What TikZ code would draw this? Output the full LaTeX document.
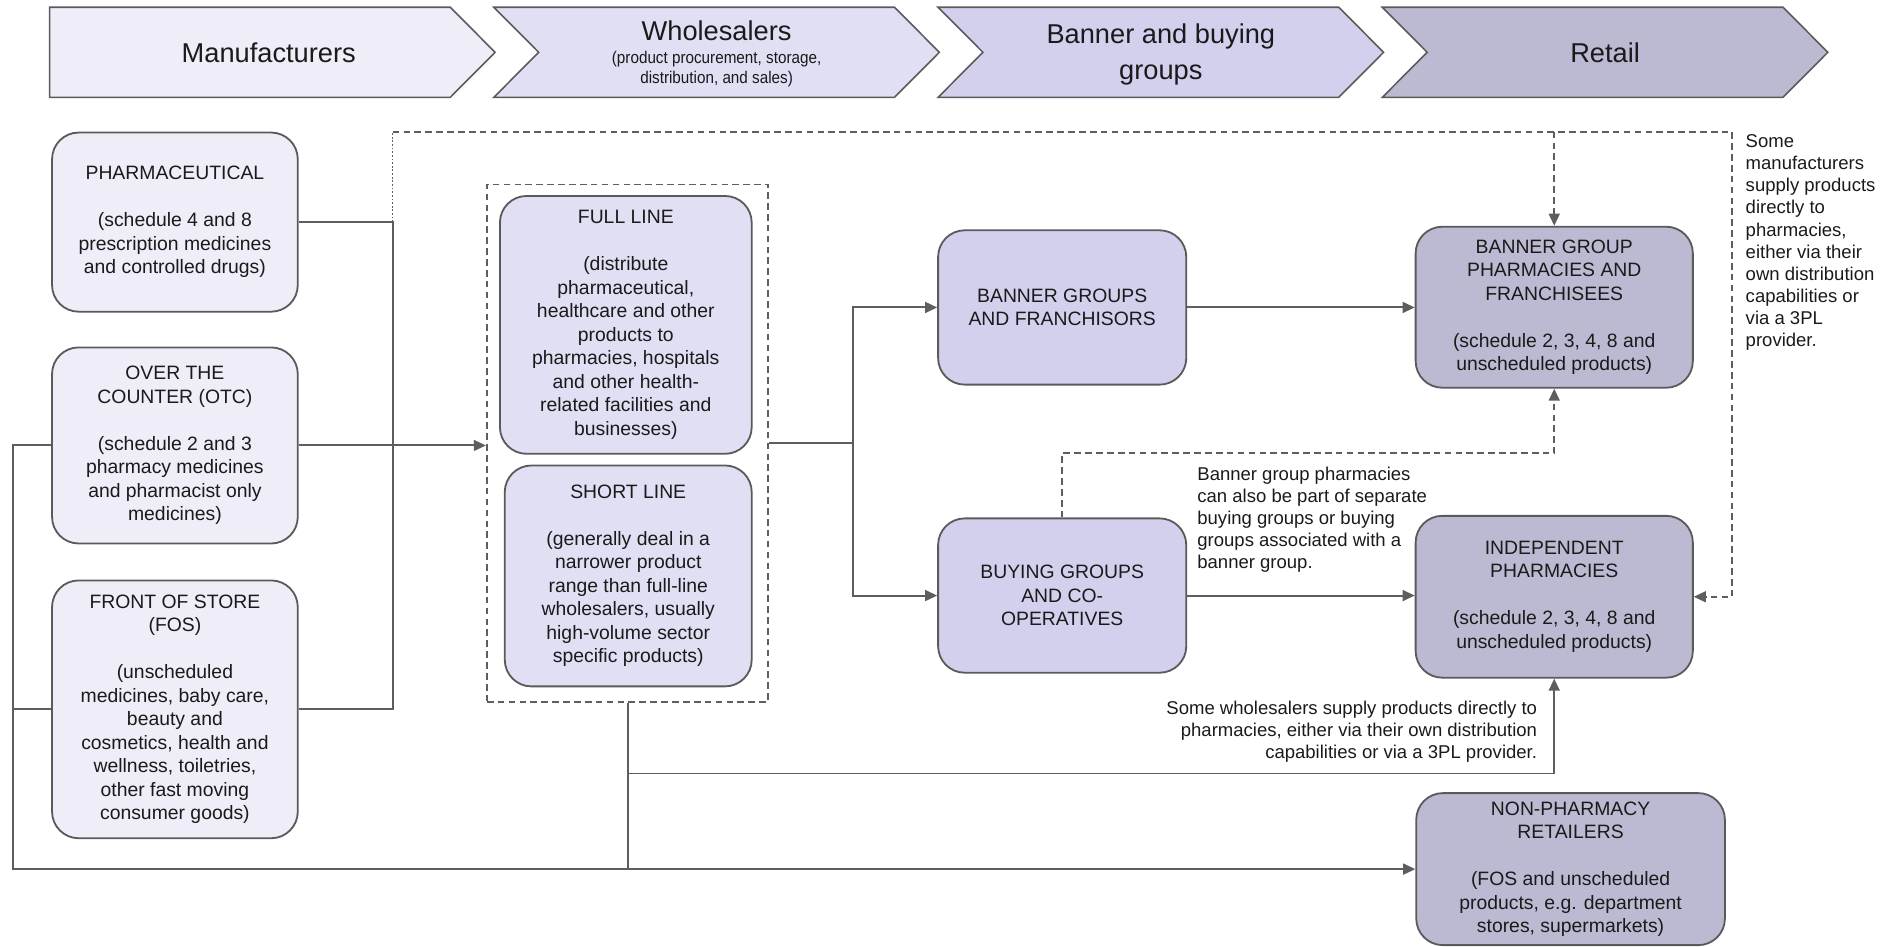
\documentclass[tikz,border=0pt]{standalone}
\usepackage{fontspec}
\setmainfont{Liberation Sans}
\newfontfamily\subfnt[FakeStretch=0.9]{Liberation Sans}
\usetikzlibrary{arrows.meta}
\definecolor{cA}{HTML}{EEEDF8}
\definecolor{cB}{HTML}{E0DFF4}
\definecolor{cC}{HTML}{D3D0EE}
\definecolor{cD}{HTML}{BCBAD2}
\definecolor{lineg}{HTML}{5E5E5E}
\definecolor{boxg}{HTML}{5A5A5A}
\definecolor{txt}{HTML}{1A1A1A}
\begin{document}
\begin{tikzpicture}[x=1pt,y=-1pt,
  ln/.style={draw=lineg, line width=1.6pt},
  arr/.style={ln, -{Triangle[length=10pt,width=9pt]}},
  dsh/.style={draw=lineg, line width=1.6pt, dash pattern=on 5.5pt off 3.5pt},
  darr/.style={dsh, -{Triangle[length=10pt,width=9pt]}},
  dotl/.style={draw=lineg, line width=0.9pt, dash pattern=on 1.5pt off 1.5pt},
  chev/.style={draw=boxg, line width=1.3pt},
  ttl/.style={text=txt, align=center, inner sep=0pt, font=\fontsize{22.5}{29}\selectfont},
  sub/.style={text=txt, align=center, inner sep=0pt, font=\subfnt\fontsize{14}{16}\selectfont},
  box/.style={draw=boxg, line width=1.5pt, rounded corners=22pt, align=center, inner sep=0pt, text=txt, font=\fontsize{16}{19.4}\selectfont},
  note/.style={text=txt, inner sep=0pt, font=\fontsize{15.3}{18.3}\selectfont},
  wbx/.style={dsh}
]
\useasboundingbox (0,0) rectangle (1568,782);

% chevrons
\path[chev, fill=cA] (41,6) -- (372,6) -- (409,43.2) -- (372,80.4) -- (41,80.4) -- cycle;
\path[chev, fill=cB] (408,6) -- (739,6) -- (776,43.2) -- (739,80.4) -- (408,80.4) -- (445,43.2) -- cycle;
\path[chev, fill=cC] (775,6) -- (1106,6) -- (1143,43.2) -- (1106,80.4) -- (775,80.4) -- (812,43.2) -- cycle;
\path[chev, fill=cD] (1142,6) -- (1473,6) -- (1510,43.2) -- (1473,80.4) -- (1142,80.4) -- (1179,43.2) -- cycle;
\node[ttl] (tman) at (222,44) {Manufacturers};
\node[ttl] (twho) at (592,25.5) {Wholesalers};
\node[sub] (twhos) at (592,57) {(product procurement, storage,\\distribution, and sales)};
\node[ttl] (tban) at (959,45) {Banner and buying\\groups};
\node[ttl] (tret) at (1326,44) {Retail};

% manufacturers
\node[box, fill=cA, minimum width=203pt, minimum height=148pt] (pharm) at (144.5,183.5)
  {PHARMACEUTICAL\\[19.4pt](schedule 4 and 8\\prescription medicines\\and controlled drugs)};
\node[box, fill=cA, minimum width=203pt, minimum height=162pt] (otc) at (144.5,368)
  {OVER THE\\COUNTER (OTC)\\[19.4pt](schedule 2 and 3\\pharmacy medicines\\and pharmacist only\\medicines)};
\node[box, fill=cA, minimum width=203pt, minimum height=213pt] (fos) at (144.5,586)
  {FRONT OF STORE\\(FOS)\\[19.4pt](unscheduled\\medicines, baby care,\\beauty and\\cosmetics, health and\\wellness, toiletries,\\other fast moving\\consumer goods)};

% wholesalers
\node[wbx, minimum width=232.6pt, minimum height=427.2pt] (wbox) at (518.5,366) {};
\node[box, fill=cB, minimum width=208pt, minimum height=213pt] (full) at (517,268.4)
  {FULL LINE\\[19.4pt](distribute\\pharmaceutical,\\healthcare and other\\products to\\pharmacies, hospitals\\and other health-\\related facilities and\\businesses)};
\node[box, fill=cB, minimum width=204pt, minimum height=182.5pt] (short) at (519,475.8)
  {SHORT LINE\\[19.4pt](generally deal in a\\narrower product\\range than full-line\\wholesalers, usually\\high-volume sector\\specific products)};

% banner and buying groups
\node[box, fill=cC, minimum width=205pt, minimum height=127.5pt] (bgf) at (877.5,254)
  {BANNER GROUPS\\AND FRANCHISORS};
\node[box, fill=cC, minimum width=205pt, minimum height=127.5pt] (bgc) at (877.5,492)
  {BUYING GROUPS\\AND CO-\\OPERATIVES};

% retail
\node[box, fill=cD, minimum width=229pt, minimum height=133pt] (bgp) at (1284,253.8)
  {BANNER GROUP\\PHARMACIES AND\\FRANCHISEES\\[19.4pt](schedule 2, 3, 4, 8 and\\unscheduled products)};
\node[box, fill=cD, minimum width=229pt, minimum height=133.7pt] (ind) at (1284,493)
  {INDEPENDENT\\PHARMACIES\\[19.4pt](schedule 2, 3, 4, 8 and\\unscheduled products)};
\node[box, fill=cD, minimum width=255pt, minimum height=125.6pt] (nonph) at (1297.5,718)
  {NON-PHARMACY\\RETAILERS\\[19.4pt](FOS and unscheduled\\products, e.g. department\\stores, supermarkets)};

% notes
\node[note, align=left, anchor=north west] (n1) at (1442,111)
  {Some\\manufacturers\\supply products\\directly to\\pharmacies,\\either via their\\own distribution\\capabilities or\\via a 3PL\\provider.};
\node[note, align=left, anchor=north west] (n2) at (989,385.5)
  {Banner group pharmacies\\can also be part of separate\\buying groups or buying\\groups associated with a\\banner group.};
\node[note, align=right, anchor=north east] (n3) at (1270,579)
  {Some wholesalers supply products directly to\\pharmacies, either via their own distribution\\capabilities or via a 3PL provider.};

% helper coordinates
\coordinate (jx) at (324.4,0);
\coordinate (lx) at (10.5,0);
\coordinate (mx) at (704.8,0);
\coordinate (wy) at (0,639);
\coordinate (dy) at (0,374.5);
\coordinate (ty) at (0,108.8);
\coordinate (rx) at (1431,0);

% manufacturer connectors
\draw[ln] (pharm.east) -- (pharm.east -| jx) -- (jx |- fos.east) -- (fos.east);
\draw[arr] (otc.east) -- (wbox.west |- otc.east);
\draw[arr] (otc.west) -- (otc.west -| lx) -- (lx |- nonph.west) -- (nonph.west);
\draw[ln] (fos.west) -- (fos.west -| lx);

% wholesaler connectors
\draw[ln] (wbox.south) -- (wbox.south |- nonph.west);
\draw[arr] (wbox.south |- wy) -| (ind.south);
\draw[ln] (wbox.east) -- (wbox.east -| mx);
\draw[arr] (wbox.east -| mx) |- (bgf.west);
\draw[arr] (wbox.east -| mx) |- (bgc.west);

% banner connectors
\draw[arr] (bgf.east) -- (bgp.west |- bgf.east);
\draw[arr] (bgc.east) -- (ind.west |- bgc.east);
\draw[darr] (bgc.north) -- (bgc.north |- dy) -| (bgp.south);

% direct manufacturer supply
\draw[dotl] (pharm.east -| jx) -- (jx |- ty);
\draw[darr] (jx |- ty) -- (rx |- ty) -- (rx |- ind.east) -- (ind.east);
\draw[darr] (bgp.north |- ty) -- (bgp.north);
\end{tikzpicture}
\end{document}
